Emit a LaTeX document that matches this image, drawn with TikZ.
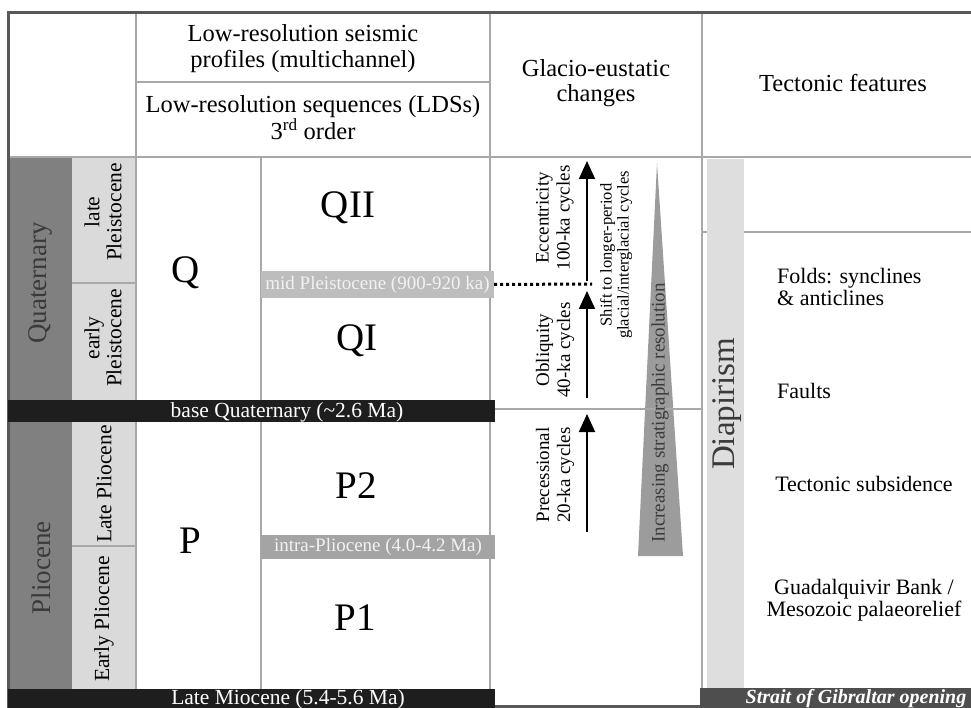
\documentclass[tikz,border=0pt]{standalone}
\usepackage{fontspec}
\setmainfont{Liberation Serif}
\usepackage{xcolor}
\usetikzlibrary{arrows.meta}
\definecolor{framegray}{HTML}{585858}
\definecolor{gridgray}{HTML}{A8A8A8}
\definecolor{eragray}{HTML}{808080}
\definecolor{eratext}{HTML}{3A3A3A}
\definecolor{subgray}{HTML}{DADADA}
\definecolor{diapgray}{HTML}{DEDEDE}
\definecolor{midgray}{HTML}{BDBDBD}
\definecolor{intragray}{HTML}{A4A4A4}
\definecolor{horizontext}{HTML}{F2F2F2}
\definecolor{surfblack}{HTML}{1E1E1E}
\definecolor{straitgray}{HTML}{4E4E4E}
\definecolor{trigray}{HTML}{9C9C9C}

\begin{document}
\begin{tikzpicture}[x=1pt,y=-1pt]
\tikzset{
    gridline/.style={draw=gridgray, line width=1.2pt},
    hdr/.style={font=\fontsize{24.5}{26}\selectfont, align=center, inner sep=0},
    era/.style={rotate=90, font=\fontsize{27}{29}\selectfont, text=eratext, inner sep=0},
    subep/.style={rotate=90, font=\fontsize{21.5}{22}\selectfont, align=center, inner sep=0},
    seq/.style={font=\fontsize{39}{40}\selectfont, anchor=base, inner sep=0},
    horizon/.style={font=\fontsize{19}{20}\selectfont, text=horizontext, inner sep=0},
    surface/.style={font=\fontsize{21.5}{24}\selectfont, text=white, inner sep=0},
    cyc/.style={rotate=90, font=\fontsize{19}{21}\selectfont, align=center, inner sep=0},
    cycarrow/.style={-{Triangle[length=18pt,width=16pt]}, line width=1.8pt},
    feat/.style={font=\fontsize{22}{22.5}\selectfont, inner sep=0}
}
\useasboundingbox (0,0) rectangle (971,708);

% columns and grid
\fill[eragray] (8,157) rectangle (72,691);
\fill[subgray] (72,157) rectangle (136,691);
\fill[trigray] (657,163) -- (683,556) -- (638,556) -- cycle;
\draw[gridline] (136,82) -- (490,82);
\draw[gridline] (8,157) -- (971,157);
\draw[gridline] (136,13) -- (136,691);
\draw[gridline] (261,157) -- (261,691);
\draw[gridline] (490,13) -- (490,691);
\draw[gridline] (702,13) -- (702,691);
\draw[gridline] (72,283) -- (136,283);
\draw[gridline] (72,546) -- (136,546);
\draw[gridline] (490,409) -- (702,409);
\draw[gridline] (702,232) -- (971,232);
\fill[diapgray] (707,159) rectangle (744,689);
\draw[framegray, line width=3pt] (8,706.5) -- (971,706.5);
\draw[framegray, line width=3pt] (8,708) -- (8,13) -- (971,13);

% header
\node[hdr] (profiles) at (303,49) {Low-resolution seismic\\profiles (multichannel)};
\node[hdr] (ldss) at (313,118) {Low-resolution sequences (LDSs)\\3\textsuperscript{rd} order};
\node[hdr, font=\fontsize{24.5}{24.5}\selectfont] (glacio) at (596,83) {Glacio-eustatic\\changes};
\node[hdr] (tecto) at (843,83) {Tectonic features};

% chronostratigraphy
\node[era] (quat) at (40,283) {Quaternary};
\node[era] (plio) at (41,568) {Pliocene};
\node[subep] (latepl) at (103,212) {late\\Pleistocene};
\node[subep] (earlypl) at (103,338) {early\\Pleistocene};
\node[subep] (latepli) at (104,484) {Late Pliocene};
\node[subep] (earlypli) at (104,619) {Early Pliocene};

% sequences
\node[seq] (q) at (186,283) {Q};
\node[seq] (p) at (190,553) {P};
\node[seq] (qii) at (348,218) {QII};
\node[seq] (qi) at (357,350) {QI};
\node[seq] (ptwo) at (356,498) {P2};
\node[seq] (pone) at (355,630) {P1};

% horizons
\node[horizon, fill=midgray, minimum width=233pt, minimum height=27pt] (midp) at (377.5,284.5) {mid Pleistocene (900-920 ka)};
\node[horizon, fill=intragray, minimum width=234pt, minimum height=24pt] (intrap) at (378,547) {intra-Pliocene (4.0-4.2 Ma)};
\fill[surfblack] (8,400) rectangle (495,422);
\node[surface] (baseq) at (287,412) {base Quaternary (\textasciitilde2.6 Ma)};
\fill[surfblack] (8,689) rectangle (495,712);
\node[surface, anchor=base] (latem) at (288,704) {Late Miocene (5.4-5.6 Ma)};
\fill[straitgray] (700,688) rectangle (971,712);
\node[surface, font=\fontsize{20}{22}\selectfont\bfseries\itshape, anchor=base] (strait) at (856,703.5) {Strait of Gibraltar opening};

% glacio-eustatic cycles
\coordinate (shift) at (592,284);
\draw[line width=3pt, dash pattern=on 3pt off 3pt] (midp.east) -- (shift);
\coordinate (ecc-s) at (587,281);
\coordinate (ecc-e) at (587,161);
\coordinate (obl-s) at (587,398);
\coordinate (obl-e) at (587,291);
\coordinate (pre-s) at (587,532);
\coordinate (pre-e) at (587,414);
\draw[cycarrow] (ecc-s) -- (ecc-e);
\draw[cycarrow] (obl-s) -- (obl-e);
\draw[cycarrow] (pre-s) -- (pre-e);
\node[cyc] (ecc) at (555,218) {Eccentricity\\100-ka cycles};
\node[cyc] (obl) at (555,350) {Obliquity\\40-ka cycles};
\node[cyc] (pre) at (555,475) {Precessional\\20-ka cycles};
\node[cyc, font=\fontsize{16.5}{17}\selectfont] (shiftlbl) at (616,255) {Shift to longer-period\\glacial/interglacial cycles};
\node[rotate=90, font=\fontsize{19}{20}\selectfont, text=eratext, inner sep=0] (resol) at (660,413) {Increasing stratigraphic resolution};

% tectonic features
\node[rotate=90, font=\fontsize{33}{34}\selectfont, text=eratext, inner sep=0] (diap) at (727,404) {Diapirism};
\node[feat, anchor=west, align=left] (folds) at (777,287) {Folds: synclines\\\& anticlines};
\node[feat, anchor=west] (faults) at (777,391) {Faults};
\node[feat] (subsid) at (864,484) {Tectonic subsidence};
\node[feat, align=center] (guad) at (864,600) {Guadalquivir Bank /\\Mesozoic palaeorelief};
\end{tikzpicture}
\end{document}
